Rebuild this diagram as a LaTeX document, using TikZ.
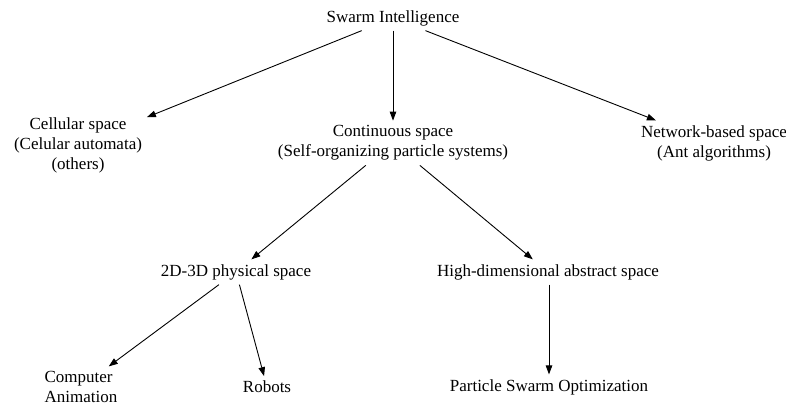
\documentclass[tikz,border=0pt]{standalone}
\usepackage{fontspec}
\setmainfont{Liberation Serif}
\usetikzlibrary{arrows.meta}
\begin{document}
\begin{tikzpicture}[x=1pt,y=-1pt,
  lbl/.style={inner sep=4.7pt,align=center,font=\fontsize{17}{20}\selectfont},
  link/.style={-{Triangle[length=9pt,width=6.5pt]},line width=0.9pt}]
\useasboundingbox (0,0) rectangle (786,405);

% tree nodes
\node[lbl] (si)   at (393,18)  {Swarm Intelligence};
\node[lbl] (cell) at (78,145)  {Cellular space\\(Celular automata)\\(others)};
\node[lbl] (cont) at (393,143) {Continuous space\\(Self-organizing particle systems)};
\node[lbl] (net)  at (714,143) {Network-based space\\(Ant algorithms)};
\node[lbl] (phys) at (236,272) {2D-3D physical space};
\node[lbl] (high) at (548,272) {High-dimensional abstract space};
\node[lbl,align=left] (anim) at (81,387) {Computer\\Animation};
\node[lbl] (rob)  at (267,387) {Robots};
\node[lbl] (pso)  at (549,387) {Particle Swarm Optimization};

% connectors
\draw[link] (si) -- (cell);
\draw[link] (si) -- (cont);
\draw[link] (si) -- (net);
\draw[link] (cont) -- (phys);
\draw[link] (cont) -- (high);
\draw[link] (phys) -- (anim);
\draw[link] (phys) -- (rob);
\draw[link] (high.south -| pso) -- (pso);
\end{tikzpicture}
\end{document}
